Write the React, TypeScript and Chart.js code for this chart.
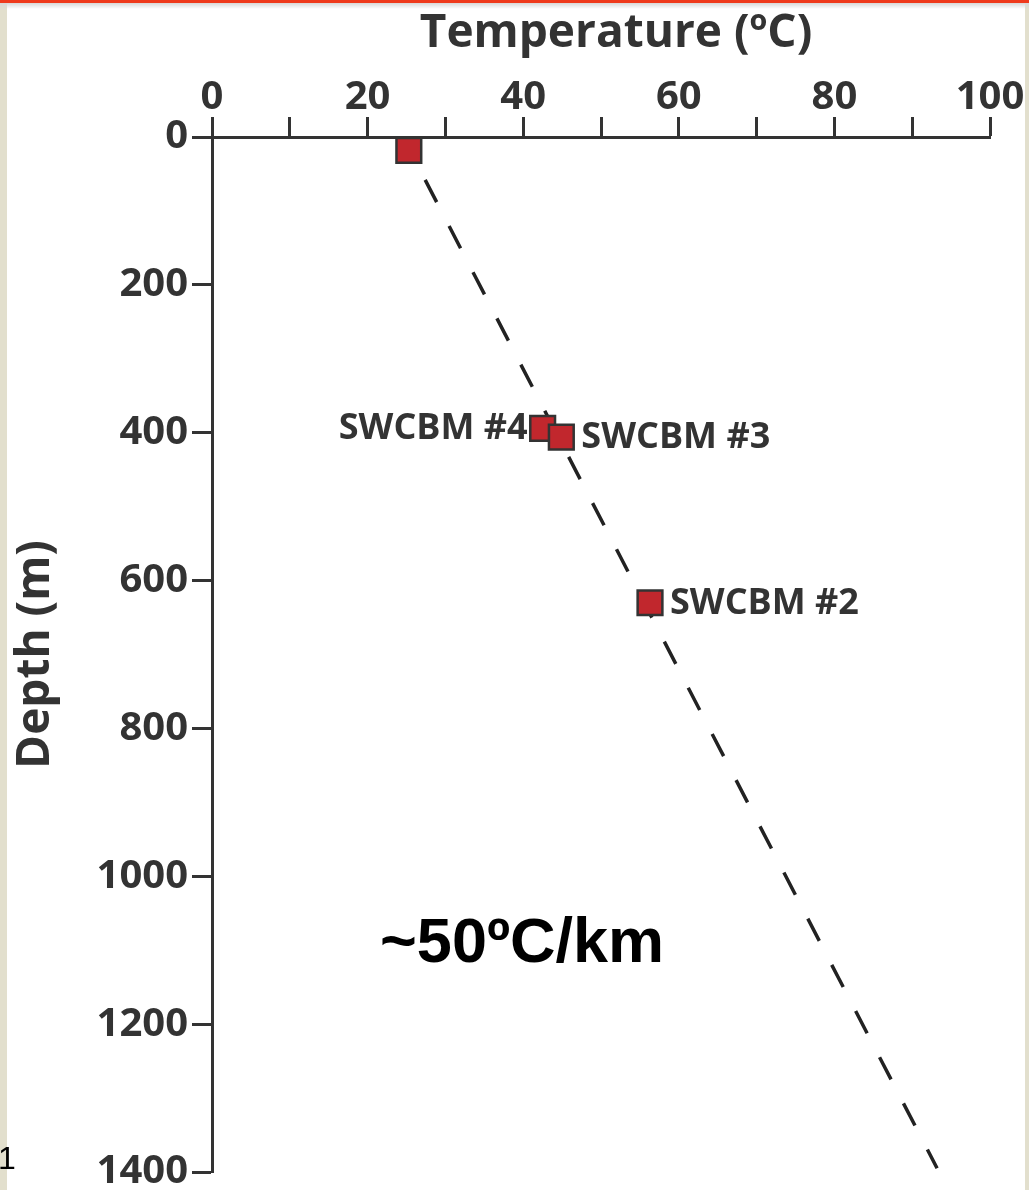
import React, { useEffect, useRef } from "react";
import { Chart, registerables } from "chart.js";

Chart.register(...registerables);

// ---- data ----
const pointNames: string[] = ["", "SWCBM #4", "SWCBM #3", "SWCBM #2"];
const pointTemps: number[] = [25.3, 42.5, 44.9, 56.3];
const pointDepths: number[] = [18, 394, 406, 630];
const trendTemps: number[] = [27.4, 93.2];
const trendDepths: number[] = [58, 1395];
const xTicksMajor = 20;
const xTicksMinor = 10;
const yTickStep = 200;
const xTitle = "Temperature (ºC)";
const yTitle = "Depth (m)";
const gradientNote = "~50ºC/km";
const noteTemp = 39.85;
const noteDepth = 1092;

const INK = "#333333";
const FONT = "'Open Sans', 'DejaVu Sans', sans-serif";

const labelPlugin = {
  id: "pointLabels",
  afterDatasetsDraw(chart: any) {
    const { ctx } = chart;
    const meta = chart.getDatasetMeta(1);
    ctx.save();
    ctx.fillStyle = INK;
    ctx.font = `bold 36px ${FONT}`;
    ctx.textBaseline = "middle";
    meta.data.forEach((el: any, i: number) => {
      const name = pointNames[i];
      if (!name) return;
      if (i === 1) {
        ctx.textAlign = "right";
        ctx.fillText(name, el.x - 15, el.y);
      } else {
        ctx.textAlign = "left";
        ctx.fillText(name, el.x + 20, el.y + 1);
      }
    });
    const xs = chart.scales.x;
    const ys = chart.scales.y;
    // x axis title, centred over the reference's title position
    ctx.font = `bold 46px ${FONT}`;
    ctx.textAlign = "center";
    ctx.textBaseline = "alphabetic";
    ctx.fillText(xTitle, (xs.left + xs.right) / 2 + 15, 47);
    // gradient note
    ctx.fillStyle = "#000000";
    ctx.font = `bold 63px 'Liberation Sans', Arial, sans-serif`;
    ctx.textAlign = "center";
    ctx.textBaseline = "middle";
    ctx.fillText(gradientNote, xs.getPixelForValue(noteTemp), ys.getPixelForValue(noteDepth));
    ctx.restore();
  },
};

export default function App() {
  const ref = useRef<HTMLCanvasElement | null>(null);

  useEffect(() => {
    if (!ref.current) return;
    const chart = new Chart(ref.current, {
      type: "scatter",
      data: {
        datasets: [
          {
            type: "line",
            data: trendTemps.map((t, i) => ({ x: t, y: trendDepths[i] })),
            borderColor: "#222222",
            borderWidth: 3.5,
            borderDash: [25, 27],
            pointRadius: 0,
            fill: false,
            order: 2,
          } as any,
          {
            data: pointTemps.map((t, i) => ({ x: t, y: pointDepths[i] })),
            pointStyle: "rect",
            pointRadius: 17.5,
            backgroundColor: "#c1272d",
            borderColor: INK,
            borderWidth: 2.5,
            order: 1,
          },
        ],
      },
      options: {
        responsive: false,
        animation: false,
        devicePixelRatio: 1,
        layout: { padding: { left: 0, top: 0, right: 39, bottom: 38 } },
        plugins: { legend: { display: false }, tooltip: { enabled: false } },
        scales: {
          x: {
            type: "linear",
            position: "top",
            min: 0,
            max: 100,
            afterFit: (s: any) => {
              s.height = 137;
            },
            border: { display: true, color: INK, width: 3 },
            grid: {
              drawOnChartArea: false,
              drawTicks: true,
              tickLength: 20,
              tickColor: INK,
              tickWidth: 3,
            },
            ticks: {
              stepSize: xTicksMinor,
              autoSkip: false,
              maxRotation: 0,
              padding: -5,
              color: INK,
              font: { family: FONT, size: 40, weight: "bold" },
              callback: (v: any) => (Number(v) % xTicksMajor === 0 ? String(v) : ""),
            },
            title: { display: false },
          },
          y: {
            type: "linear",
            reverse: true,
            min: 0,
            max: 1400,
            afterFit: (s: any) => {
              s.width = 212;
            },
            border: { display: true, color: INK, width: 3 },
            grid: {
              drawOnChartArea: false,
              drawTicks: true,
              tickLength: 20,
              tickColor: INK,
              tickWidth: 3,
            },
            ticks: {
              stepSize: yTickStep,
              autoSkip: false,
              padding: 4,
              color: INK,
              font: { family: FONT, size: 40, weight: "bold" },
              callback: (v: any) => String(v),
            },
            title: {
              display: true,
              text: yTitle,
              color: INK,
              font: { family: FONT, size: 46, weight: "bold" },
              padding: { top: 8, bottom: 0 },
            },
          },
        },
      } as any,
      plugins: [labelPlugin],
    });
    return () => chart.destroy();
  }, []);

  return (
    <div
      style={{
        position: "absolute",
        left: 0,
        top: 0,
        width: 1029,
        height: 1190,
        overflow: "hidden",
        background: "#ffffff",
      }}
    >
      <canvas ref={ref} width={1029} height={1210} style={{ position: "absolute", left: 0, top: 0 }} />
      <div style={{ position: "absolute", left: 0, top: 0, width: 7, height: 1190, background: "#e2dfcd" }} />
      <div style={{ position: "absolute", left: 1025, top: 0, width: 4, height: 1190, background: "#e2dfcd" }} />
      <div style={{ position: "absolute", left: 0, top: 0, width: 1029, height: 3, background: "#ef3a1c" }} />
      <div
        style={{
          position: "absolute",
          left: 0,
          top: 3,
          width: 1029,
          height: 6,
          background: "linear-gradient(#d8d8d8, rgba(255,255,255,0))",
        }}
      />
      <span
        style={{
          position: "absolute",
          left: -2,
          top: 1138,
          fontFamily: "'Liberation Sans', Arial, sans-serif",
          fontSize: 32,
          lineHeight: "40px",
          color: "#000",
        }}
      >
        1
      </span>
    </div>
  );
}
